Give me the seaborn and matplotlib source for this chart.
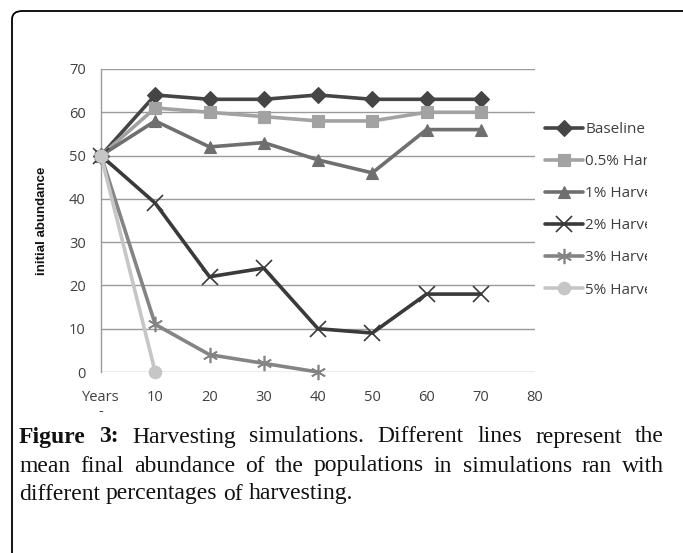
import matplotlib
matplotlib.use("Agg")
import matplotlib.pyplot as plt
import seaborn as sns
import pandas as pd
from matplotlib.patches import FancyBboxPatch
from matplotlib.transforms import Bbox, TransformedBbox

years = [0, 10, 20, 30, 40, 50, 60, 70]
series_names = ["Baseline", "0.5% Harvesting", "1% Harvesting",
                "2% Harvesting", "3% Harvesting", "5% Harvesting"]
baseline = [50, 64, 63, 63, 64, 63, 63, 63]
harv_05 = [50, 61, 60, 59, 58, 58, 60, 60]
harv_1 = [50, 58, 52, 53, 49, 46, 56, 56]
harv_2 = [50, 39, 22, 24, 10, 9, 18, 18]
harv_3 = [50, 11, 4, 2, 0]
harv_5 = [50, 0]
series_values = [baseline, harv_05, harv_1, harv_2, harv_3, harv_5]
x_ticks = [0, 10, 20, 30, 40, 50, 60, 70, 80]
x_ticklabels = ["Years\n-", "10", "20", "30", "40", "50", "60", "70", "80"]
y_ticks = [0, 10, 20, 30, 40, 50, 60, 70]

colors = ["#454545", "#a2a2a2", "#6f6f6f", "#3a3a3a", "#848484", "#c6c6c6"]
markers = ["D", "s", "^", "x", (6, 2, 0), "o"]
msizes = [8, 9, 9, 11, 11, 9]

sns.set_style("white")
plt.rcParams["font.family"] = ["Open Sans", "DejaVu Sans"]

W, H = 683, 553
fig = plt.figure(figsize=(W / 100, H / 100), dpi=100)
ax = fig.add_axes([101 / W, 1 - 372 / H, (535 - 101) / W, (372 - 69) / H])

rows = []
for name, vals in zip(series_names, series_values):
    for yr, v in zip(years, vals):
        rows.append({"year": yr, "value": v, "series": name})
df = pd.DataFrame(rows)

for i, name in enumerate(series_names):
    sub = df[df["series"] == name]
    sns.lineplot(data=sub, x="year", y="value", ax=ax, color=colors[i],
                 marker=markers[i], markersize=msizes[i], linewidth=2.6,
                 markeredgecolor=colors[i], markeredgewidth=1.2 if i in (3, 4) else 0.8,
                 label=name, clip_on=False, zorder=3 + i)

ax.set_xlim(0, 80)
ax.set_ylim(0, 70)
ax.set_xticks(x_ticks)
ax.set_xticklabels(x_ticklabels, va="top", linespacing=0.9)
ax.set_yticks(y_ticks)
ax.grid(axis="y", color="#9a9a9a", linewidth=1)
ax.grid(axis="x", visible=False)
for s in ["top", "right", "bottom"]:
    ax.spines[s].set_visible(False)
ax.spines["left"].set_color("#9a9a9a")
ax.spines["left"].set_linewidth(1)
ax.tick_params(axis="both", length=0, labelsize=10.5, labelcolor="#404040")
ax.tick_params(axis="y", pad=11)
ax.tick_params(axis="x", pad=13)
ax.set_xlabel("")
ax.set_ylabel("initial abundance", fontsize=9.5, fontweight="bold",
              family=["Liberation Sans", "DejaVu Sans"], color="#111111")
ax.yaxis.set_label_coords((48 - 101) / (535 - 101), (372 - 221) / (372 - 69))

ax.get_legend().remove()
handles, labels = ax.get_legend_handles_labels()
leg = fig.legend(handles, labels, loc="upper left",
                 bbox_to_anchor=(545 / W, 1 - 122 / H), frameon=False,
                 borderpad=0, borderaxespad=0, fontsize=11,
                 handlelength=2.5, handletextpad=0.12, labelspacing=1.12,
                 labelcolor="#404040")
clipbox = TransformedBbox(Bbox([[0, 0], [647 / W, 1]]), fig.transFigure)
for t in leg.get_texts():
    t.set_clip_box(clipbox)
    t.set_clip_on(True)

# Outer rounded frame
frame = FancyBboxPatch((12 / W, -0.1), 1.2, 1 - 11 / H + 0.1,
                       boxstyle="round,pad=0,rounding_size=0.015",
                       transform=fig.transFigure, fill=False,
                       edgecolor="black", linewidth=1.3, zorder=0)
fig.patches.append(frame)

# Caption, justified
serif = ["Liberation Serif", "DejaVu Serif"]
cap_fs = 17
cap_lines = [
    [("Figure", True), ("3:", True), ("Harvesting", False), ("simulations.", False),
     ("Different", False), ("lines", False), ("represent", False), ("the", False)],
    [("mean", False), ("final", False), ("abundance", False), ("of", False), ("the", False),
     ("populations", False), ("in", False), ("simulations", False), ("ran", False), ("with", False)],
    [("different", False), ("percentages", False), ("of", False), ("harvesting.", False)],
]
line_y = [437, 466, 494]
x_left, x_right = 19, 664
renderer = fig.canvas.get_renderer()
sp = fig.text(0, 0, "a a", fontsize=cap_fs, family=serif)
sa = fig.text(0, 0, "aa", fontsize=cap_fs, family=serif)
natural_gap = sp.get_window_extent(renderer).width - sa.get_window_extent(renderer).width
sp.remove(); sa.remove()
for li, (words, yy) in enumerate(zip(cap_lines, line_y)):
    texts = []
    for w, bold in words:
        t = fig.text(0, 1 - yy / H, w, fontsize=cap_fs, family=serif,
                     fontweight="bold" if bold else "normal", va="center",
                     ha="left", color="#111111")
        texts.append(t)
    widths = [t.get_window_extent(renderer).width for t in texts]
    if li < 2:
        gap = (x_right - x_left - sum(widths)) / (len(words) - 1)
        gap = max(gap, natural_gap * 0.8)
    else:
        gap = natural_gap
    x = x_left
    for t, w in zip(texts, widths):
        t.set_x(x / W)
        x += w + gap

fig.savefig("out.png", dpi=100)
